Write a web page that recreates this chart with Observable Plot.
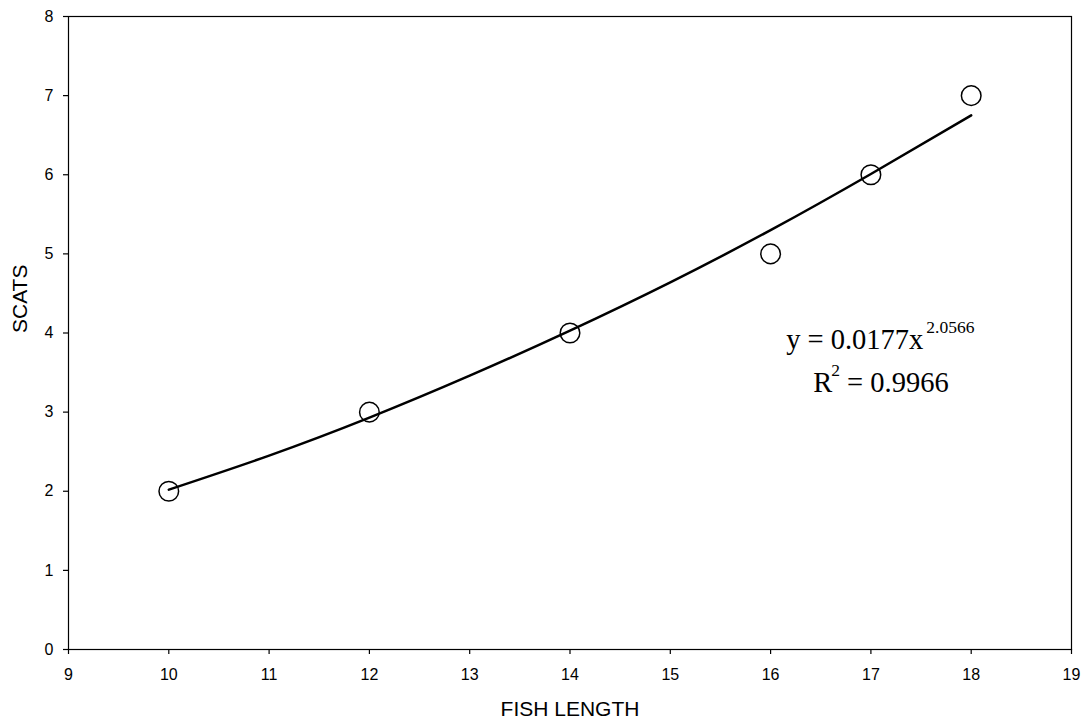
<!DOCTYPE html>
<html>
<head>
<meta charset="utf-8">
<script src="https://cdn.jsdelivr.net/npm/d3@7"></script>
<script src="https://cdn.jsdelivr.net/npm/@observablehq/plot@0.6"></script>
<style>
  html, body { margin: 0; padding: 0; background: #fff; }
  svg { display: block; }
</style>
</head>
<body>
<div id="chart"></div>
<script>
// Observed data points
const fishLength = [10, 12, 14, 16, 17, 18];
const scats = [2, 3, 4, 5, 6, 7];

// Power trendline values
const trendX = [10, 11, 12, 13, 14, 15, 16, 17, 18];
const trendY = [2.02, 2.45, 2.93, 3.46, 4.03, 4.64, 5.30, 6.01, 6.75];

// Axis ticks
const xTicks = [9, 10, 11, 12, 13, 14, 15, 16, 17, 18, 19];
const yTicks = [0, 1, 2, 3, 4, 5, 6, 7, 8];

// Equation annotation (anchored in data units)
const eqnLines = [
  {x: 16.16, y: 3.79, base: "y = 0.0177x", sup: "2.0566", tail: ""},
  {x: 16.43, y: 3.25, base: "R", sup: "2", tail: " = 0.9966"}
];

const points = fishLength.map((x, i) => ({x, y: scats[i]}));
const trend = trendX.map((x, i) => ({x, y: trendY[i]}));

const sans = "'Liberation Sans', Arial, sans-serif";
const serif = "'Liberation Serif', 'Times New Roman', serif";

const plot = Plot.plot({
  width: 1091,
  height: 726,
  marginLeft: 68,
  marginRight: 20,
  marginTop: 16,
  marginBottom: 77,
  style: {fontFamily: sans, background: "#fff", color: "#000"},
  x: {domain: [9, 19]},
  y: {domain: [0, 8]},
  marks: [
    Plot.frame({stroke: "#000", strokeWidth: 1.2}),
    Plot.axisX({ticks: xTicks, tickSize: 5, tickPadding: 14, fontSize: 16, label: null, stroke: "#000", strokeWidth: 1.2}),
    Plot.axisY({ticks: yTicks, tickSize: 5, tickPadding: 10, fontSize: 16, label: null, stroke: "#000", strokeWidth: 1.2}),
    Plot.line(trend, {x: "x", y: "y", curve: "natural", stroke: "#000", strokeWidth: 2.5}),
    Plot.dot(points, {x: "x", y: "y", r: 9.8, stroke: "#000", strokeWidth: 1.5, fill: "none"}),
    Plot.text(["FISH LENGTH"], {frameAnchor: "bottom", dy: 60, fontSize: 21, lineAnchor: "middle", fill: "#000"}),
    Plot.text(["SCATS"], {frameAnchor: "left", dx: -48, rotate: -90, fontSize: 21, lineAnchor: "middle", fill: "#000"})
  ]
});

// Equation text with superscripts, positioned through the plot scales
const sx = plot.scale("x"), sy = plot.scale("y");
const g = d3.select(plot).append("g")
  .attr("font-family", serif)
  .attr("fill", "#000")
  .attr("text-anchor", "start");
eqnLines.forEach((d, i) => {
  const t = g.append("text")
    .attr("x", sx.apply(d.x))
    .attr("y", sy.apply(d.y))
    .attr("font-size", 28.5);
  t.append("tspan").text(d.base);
  t.append("tspan").attr("font-size", 17.5).attr("dx", i === 0 ? 3 : -1).attr("dy", -16).text(d.sup);
  if (d.tail) t.append("tspan").attr("dy", 16).text(d.tail);
});

document.getElementById("chart").appendChild(plot);
</script>
</body>
</html>
